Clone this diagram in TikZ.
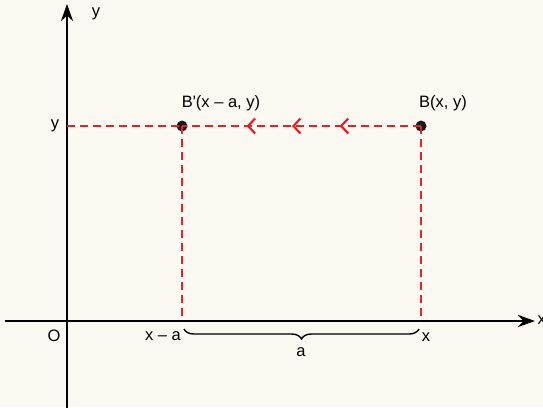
\documentclass[tikz,border=0pt]{standalone}
\usepackage{fontspec}
\setmainfont{Liberation Sans}
\usetikzlibrary{arrows.meta,decorations.pathreplacing,decorations.markings}
\definecolor{bgcream}{HTML}{FCF9F3}
\definecolor{ptred}{HTML}{E3232B}
\tikzset{
  axis/.style={line width=2.8pt,->},
  reddash/.style={ptred,line width=2.4pt,dash pattern=on 8pt off 5pt},
  dot/.style={circle,fill=black!90,inner sep=0pt,minimum size=11pt},
  chev/.style={solid,line width=2.2pt}
}
\begin{document}
\begin{tikzpicture}[x=1pt,y=-1pt,>={Stealth[length=17pt,width=12pt]},font=\fontsize{16.5}{20}\selectfont]
\fill[bgcream] (0,0) rectangle (543,407);
\useasboundingbox (0,0) rectangle (543,407);

% axes
\coordinate (xl) at (5,321);
\coordinate (xr) at (535,321);
\coordinate (yb) at (67,410);
\coordinate (yt) at (67,4);
\coordinate (ymark) at (67,126);
\coordinate (xa) at (182,321);
\coordinate (xx) at (421,321);
\draw[axis] (xl) -- (xr);
\draw[axis] (yb) -- (yt);

% points
\node[dot] (Bp) at (182,126) {};
\node[dot] (B) at (421,126) {};

% dashed lines
\draw[reddash] (ymark) -- (Bp.center);
\draw[reddash,postaction={decorate},decoration={markings,
  mark=at position 0.34 with {\arrow[chev]{Straight Barb[length=7pt,width=15pt]}},
  mark=at position 0.54 with {\arrow[chev]{Straight Barb[length=7pt,width=15pt]}},
  mark=at position 0.73 with {\arrow[chev]{Straight Barb[length=7pt,width=15pt]}}}]
  (B.center) -- (Bp.center);
\draw[reddash] (Bp.center) -- (xa);
\draw[reddash] (B.center) -- (xx);

% brace
\draw[line width=1.4pt,decorate,decoration={brace,mirror,amplitude=10pt}] (184,329) -- (419,329);

% labels
\node (lbly) at (96,14) {y};
\node (lblx) at (534,320) [anchor=west] {x};
\node (lblO) at (54,336) {O};
\node (lblyy) at (55,126) {y};
\node (lblxa) at (163,336) {x -- a};
\node (lblxx) at (426,337) {x};
\node (lbla) at (301,352) {a};
\node (lblBp) at (221,103) {B\textquotesingle(x -- a, y)};
\node (lblB) at (443,103) {B(x, y)};
\end{tikzpicture}
\end{document}
